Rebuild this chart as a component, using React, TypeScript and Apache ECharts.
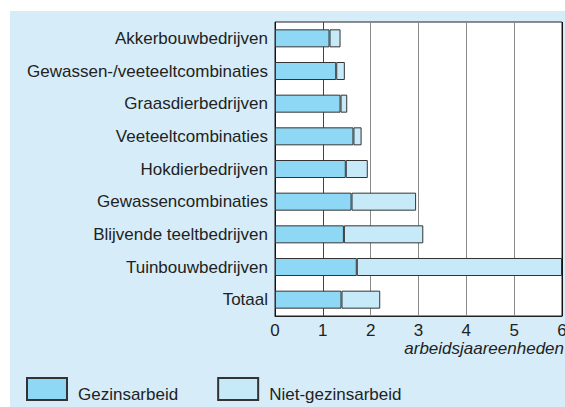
import React, { useEffect, useRef } from "react";
import * as echarts from "echarts";

const categories = [
  "Akkerbouwbedrijven",
  "Gewassen-/veeteeltcombinaties",
  "Graasdierbedrijven",
  "Veeteeltcombinaties",
  "Hokdierbedrijven",
  "Gewassencombinaties",
  "Blijvende teeltbedrijven",
  "Tuinbouwbedrijven",
  "Totaal",
];
const gezinsarbeid = [1.14, 1.28, 1.37, 1.64, 1.48, 1.6, 1.44, 1.71, 1.39];
const nietGezinsarbeid = [0.23, 0.18, 0.14, 0.17, 0.46, 1.35, 1.66, 4.29, 0.81];
const seriesNames = ["Gezinsarbeid", "Niet-gezinsarbeid"];
const axisTitle = "arbeidsjaareenheden";

const FONT = "'Liberation Sans', Arial, Helvetica, sans-serif";

export default function App() {
  const ref = useRef<HTMLDivElement>(null);
  useEffect(() => {
    document.body.style.margin = "0";
    if (!ref.current) return;
    const chart = echarts.init(ref.current, undefined, { renderer: "svg" });
    chart.setOption({
      animation: false,
      backgroundColor: "transparent",
      textStyle: { fontFamily: FONT },
      grid: {
        left: 275,
        right: 3,
        top: 22,
        bottom: 91,
        containLabel: false,
        outerBoundsMode: "none",
        show: true,
        backgroundColor: "#ffffff",
        borderColor: "#222",
        borderWidth: 1,
      },
      legend: {
        left: 26,
        top: 377,
        padding: 0,
        icon: "rect",
        itemWidth: 40,
        itemHeight: 22,
        itemGap: 39,
        formatter: "{t|{name}}",
        textStyle: {
          fontSize: 17,
          color: "#222",
          fontFamily: FONT,
          rich: {
            t: {
              fontSize: 17,
              color: "#222",
              fontFamily: FONT,
              padding: [11, 0, 0, 6],
            },
          },
        },
        data: seriesNames,
      },
      graphic: [
        {
          type: "text",
          right: 1,
          top: 340,
          style: {
            text: axisTitle,
            fontSize: 17,
            fontStyle: "italic",
            fill: "#222",
            fontFamily: FONT,
          },
        },
      ],
      xAxis: {
        type: "value",
        min: 0,
        max: 6,
        interval: 1,
        axisLine: { show: true, lineStyle: { color: "#222", width: 1 } },
        axisTick: { show: false },
        axisLabel: { fontSize: 17, color: "#222", margin: 6, fontFamily: FONT },
        splitLine: {
          show: true,
          lineStyle: { color: ["#111", "#444", "#888", "#888", "#888", "#888"], width: 1 },
        },
      },
      yAxis: {
        type: "category",
        inverse: true,
        data: categories,
        axisLine: { show: false },
        axisTick: { show: false },
        axisLabel: { fontSize: 17, color: "#222", margin: 7, fontFamily: FONT },
      },
      series: [
        {
          name: seriesNames[0],
          type: "bar",
          stack: "total",
          barWidth: 18,
          data: gezinsarbeid,
          itemStyle: { color: "#8ed8f6", borderColor: "#333", borderWidth: 1 },
        },
        {
          name: seriesNames[1],
          type: "bar",
          stack: "total",
          barWidth: 18,
          data: nietGezinsarbeid,
          itemStyle: { color: "#c7eaf9", borderColor: "#333", borderWidth: 1 },
        },
      ],
    });
    return () => chart.dispose();
  }, []);

  return (
    <div style={{ position: "relative", width: 565, height: 407, background: "#fff" }}>
      <div
        style={{
          position: "absolute",
          left: 10,
          top: 11,
          width: 555,
          height: 396,
          background: "#d6edf9",
        }}
      />
      <div ref={ref} style={{ position: "absolute", left: 0, top: 0, width: 565, height: 407 }} />
    </div>
  );
}
